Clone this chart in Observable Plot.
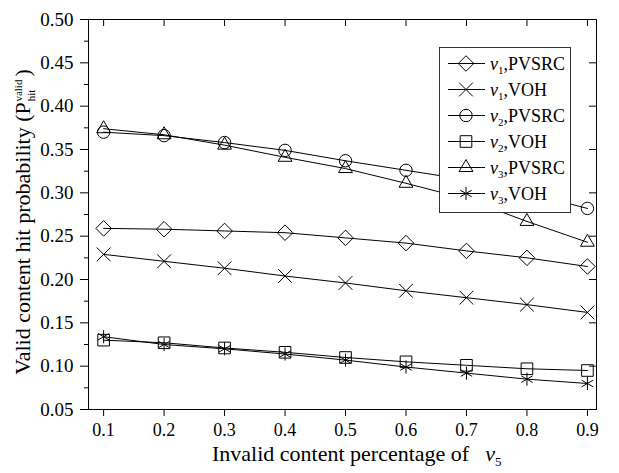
<!DOCTYPE html>
<html><head><meta charset="utf-8">
<script src="https://cdn.jsdelivr.net/npm/d3@7"></script>
<script src="https://cdn.jsdelivr.net/npm/@observablehq/plot@0.6"></script>
<style>body{margin:0;background:#fff} svg{display:block}</style>
</head><body><div id="chart"></div>
<script>
// ---- data ----
const xValues = [0.1, 0.2, 0.3, 0.4, 0.5, 0.6, 0.7, 0.8, 0.9];
const v1PVSRC = [0.259, 0.258, 0.256, 0.254, 0.248, 0.242, 0.233, 0.225, 0.215];
const v1VOH   = [0.229, 0.221, 0.213, 0.204, 0.196, 0.187, 0.179, 0.171, 0.162];
const v2PVSRC = [0.370, 0.366, 0.358, 0.349, 0.337, 0.326, 0.315, 0.300, 0.282];
const v2VOH   = [0.130, 0.127, 0.121, 0.116, 0.110, 0.105, 0.101, 0.097, 0.095];
const v3PVSRC = [0.374, 0.367, 0.355, 0.341, 0.328, 0.311, 0.293, 0.267, 0.243];
const v3VOH   = [0.134, 0.125, 0.120, 0.114, 0.107, 0.099, 0.092, 0.085, 0.080];
const seriesNodes = ["1", "1", "2", "2", "3", "3"];
const seriesMethods = ["PVSRC", "VOH", "PVSRC", "VOH", "PVSRC", "VOH"];
const xTicks = [0.1, 0.2, 0.3, 0.4, 0.5, 0.6, 0.7, 0.8, 0.9];
const yTicks = [0.05, 0.10, 0.15, 0.20, 0.25, 0.30, 0.35, 0.40, 0.45, 0.50];
const yMinorTicks = [0.075, 0.125, 0.175, 0.225, 0.275, 0.325, 0.375, 0.425, 0.475];
const xLabel = "Invalid content percentage of";
const yLabel = "Valid content hit probability (P";

// ---- styling ----
const seriesValues = [v1PVSRC, v1VOH, v2PVSRC, v2VOH, v3PVSRC, v3VOH];
const symbols = ["diamond2", "times", "circle", "square2", "triangle2", "asterisk"];
const radii = [7, 6.3, 6.2, 7.4, 6.6, 6.2];
const W = 619, H = 473, mL = 88, mR = 23, mT = 19, mB = 64;
const pw = W - mL - mR, ph = H - mT - mB;
const FONT = "'Liberation Serif', 'Times New Roman', serif";

const rows = [];
seriesValues.forEach((vals, s) => vals.forEach((v, i) => rows.push({s, x: xValues[i], y: v})));

const marks = [Plot.frame({stroke: "black", strokeWidth: 1})];
seriesValues.forEach((_, s) => {
  marks.push(Plot.line(rows.filter(r => r.s === s), {x: "x", y: "y", stroke: "black", strokeWidth: 1}));
});
seriesValues.forEach((_, s) => {
  marks.push(Plot.dot(rows.filter(r => r.s === s), {x: "x", y: "y", symbol: symbols[s], r: radii[s], stroke: "black", fill: "none", strokeWidth: 1}));
});
marks.push(
  Plot.axisX(xTicks, {anchor: "bottom", tickSize: 7, tickPadding: 7, tickFormat: d => d.toFixed(1), label: null, fontSize: 18}),
  Plot.axisY(yTicks, {anchor: "left", tickSize: 8, tickPadding: 7, tickFormat: d => d.toFixed(2), label: null, fontSize: 19}),
  Plot.ruleY(yMinorTicks, {y: d => d, insetLeft: -4, insetRight: pw, stroke: "black"}),
  Plot.ruleX(xTicks, {x: d => d, insetBottom: ph - 7, stroke: "black"}),
  Plot.ruleY(yTicks, {y: d => d, insetLeft: pw - 7, stroke: "black"})
);

const svg = Plot.plot({
  width: W, height: H, marginLeft: mL, marginRight: mR, marginTop: mT, marginBottom: mB,
  x: {domain: [0.075, 0.915]},
  y: {domain: [0.05, 0.5]},
  style: {fontFamily: FONT, fontSize: "18px", color: "black", background: "white", overflow: "visible"},
  marks
});

const g = d3.select(svg);
// x label
const xt = g.append("text").attr("x", 212).attr("y", 461).attr("text-anchor", "start")
  .attr("font-family", FONT).attr("font-size", 22).attr("fill", "black");
xt.append("tspan").text(xLabel);
xt.append("tspan").attr("font-style", "italic").attr("dx", 16).text("v");
xt.append("tspan").attr("font-size", 13).attr("dy", 5).text("5");

// y label
const yt = g.append("text").attr("transform", "translate(30,222) rotate(-90)").attr("text-anchor", "middle")
  .attr("font-family", FONT).attr("font-size", 22).attr("fill", "black");
yt.append("tspan").text(yLabel);
yt.append("tspan").attr("font-size", 11).attr("dy", 5).attr("dx", 1).text("hit");
yt.append("tspan").attr("font-size", 11).attr("dx", -12).attr("dy", -13).text("valid");
yt.append("tspan").attr("dx", 3).attr("dy", 8).text(")");

// legend
const lg = g.append("g").attr("text-anchor", "start");
lg.append("rect").attr("x", 439.5).attr("y", 47.5).attr("width", 131).attr("height", 165)
  .attr("fill", "white").attr("stroke", "#333").attr("stroke-width", 1);
const d3sym = {diamond2: d3.symbolDiamond2, times: d3.symbolTimes, circle: d3.symbolCircle,
  square2: d3.symbolSquare2, triangle2: d3.symbolTriangle2, asterisk: d3.symbolAsterisk};
seriesValues.forEach((_, s) => {
  const y = 63.5 + s * 26;
  lg.append("line").attr("x1", 448).attr("x2", 485).attr("y1", y).attr("y2", y).attr("stroke", "black");
  lg.append("path").attr("transform", `translate(466,${y})`)
    .attr("d", d3.symbol(d3sym[symbols[s]], Math.PI * radii[s] * radii[s])())
    .attr("fill", "none").attr("stroke", "black");
  const t = lg.append("text").attr("x", 490).attr("y", y + 6).attr("text-anchor", "start")
    .attr("font-family", FONT).attr("font-size", 18).attr("fill", "black");
  t.append("tspan").attr("font-style", "italic").text("v");
  t.append("tspan").attr("font-size", 11).attr("dy", 4).text(seriesNodes[s]);
  t.append("tspan").attr("dy", -4).text("," + seriesMethods[s]);
});

document.getElementById("chart").appendChild(svg);
</script>
</body></html>
